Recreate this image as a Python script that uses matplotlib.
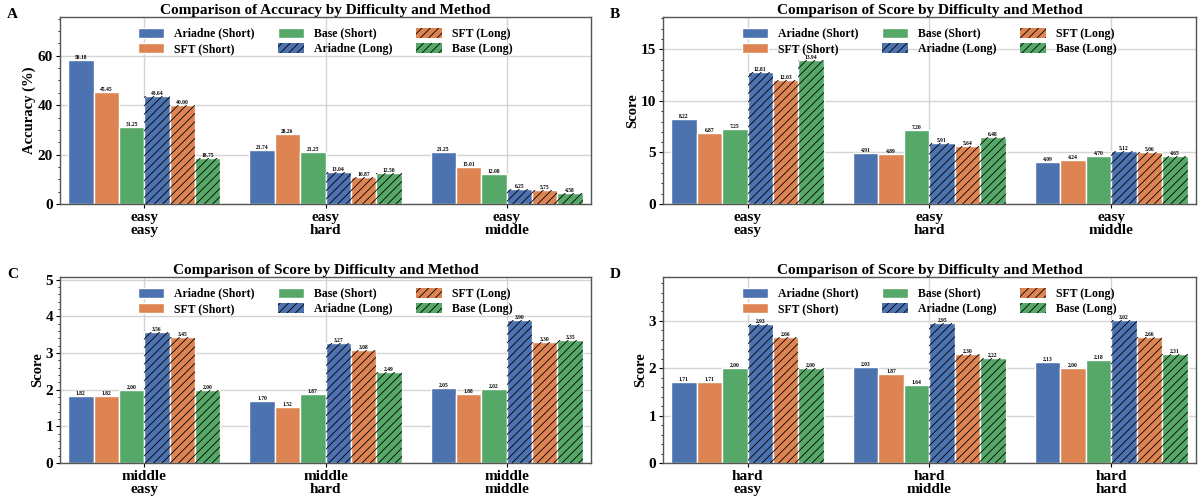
import matplotlib
matplotlib.use("Agg")
import matplotlib.pyplot as plt
from matplotlib.patches import Patch
from matplotlib.ticker import AutoMinorLocator, MultipleLocator
import numpy as np

plt.rcParams['font.family'] = ['Liberation Serif', 'DejaVu Serif']
plt.rcParams['font.weight'] = 'bold'
plt.rcParams['hatch.linewidth'] = 0.6

methods = ['Ariadne (Short)', 'SFT (Short)', 'Base (Short)',
           'Ariadne (Long)', 'SFT (Long)', 'Base (Long)']
colors = ['#4C72B0', '#DD8452', '#55A868', '#4C72B0', '#DD8452', '#55A868']
hatches = [None, None, None, '////', '////', '////']

groups_a = ['easy\neasy', 'easy\nhard', 'easy\nmiddle']
groups_b = ['easy\neasy', 'easy\nhard', 'easy\nmiddle']
groups_c = ['middle\neasy', 'middle\nhard', 'middle\nmiddle']
groups_d = ['hard\neasy', 'hard\nmiddle', 'hard\nhard']

# rows = groups, columns = methods
acc_a = [[58.18, 45.45, 31.25, 43.64, 40.00, 18.75],
         [21.74, 28.26, 21.25, 13.04, 10.87, 12.50],
         [21.25, 15.01, 12.08, 6.25, 5.75, 4.58]]
score_b = [[8.22, 6.87, 7.25, 12.81, 12.03, 13.94],
           [4.91, 4.89, 7.20, 5.91, 5.64, 6.48],
           [4.09, 4.24, 4.70, 5.12, 5.06, 4.65]]
score_c = [[1.82, 1.82, 2.00, 3.56, 3.45, 2.00],
           [1.70, 1.52, 1.87, 3.27, 3.08, 2.49],
           [2.05, 1.88, 2.02, 3.90, 3.30, 3.35]]
score_d = [[1.71, 1.71, 2.00, 2.93, 2.66, 2.00],
           [2.03, 1.87, 1.64, 2.95, 2.30, 2.22],
           [2.13, 2.00, 2.18, 3.02, 2.66, 2.31]]

panels = [
    ('A', 'Comparison of Accuracy by Difficulty and Method', 'Accuracy (%)', groups_a, acc_a, 20),
    ('B', 'Comparison of Score by Difficulty and Method', 'Score', groups_b, score_b, 5),
    ('C', 'Comparison of Score by Difficulty and Method', 'Score', groups_c, score_c, 1),
    ('D', 'Comparison of Score by Difficulty and Method', 'Score', groups_d, score_d, 1),
]

fig = plt.figure(figsize=(12, 4.97), dpi=100)
positions = [[0.050, 0.5895, 0.4425, 0.376], [0.5525, 0.5895, 0.444, 0.376],
             [0.050, 0.0684, 0.4425, 0.374], [0.5525, 0.0684, 0.444, 0.374]]

width = 0.14
for (letter, title, ylabel, groups, data, step), pos in zip(panels, positions):
    ax = fig.add_axes(pos)
    vals = np.array(data)
    x = np.arange(len(groups))
    for j in range(len(methods)):
        xs = x + (j - 2.5) * width
        ax.bar(xs, vals[:, j], width, color=colors[j], edgecolor='white',
               linewidth=1.0, zorder=2)
        if hatches[j]:
            ax.bar(xs, vals[:, j], width, fill=False, hatch=hatches[j],
                   edgecolor='black', linewidth=0, zorder=3)
        for xi, v in zip(xs, vals[:, j]):
            ax.text(xi, v, f'{v:.2f}', ha='center', va='bottom',
                    fontsize=4, fontweight='bold', zorder=4)
    ax.set_ylim(0, vals.max() * 1.3)
    ax.set_xlim(-0.465, 2.465)
    ax.set_xticks(x)
    ax.set_xticklabels(groups, fontsize=11, fontweight='bold',
                       linespacing=1.05)
    ax.yaxis.set_major_locator(MultipleLocator(step))
    ax.yaxis.set_minor_locator(AutoMinorLocator())
    ax.tick_params(axis='y', labelsize=11, length=3, pad=2)
    ax.tick_params(axis='y', which='minor', length=1.5)
    ax.tick_params(axis='x', length=3, pad=2)
    for lab in ax.get_yticklabels():
        lab.set_fontweight('bold')
    ax.set_ylabel(ylabel, fontsize=10.5, fontweight='bold', labelpad=1)
    ax.set_title(title, fontsize=11, fontweight='bold', pad=2)
    ax.grid(True, color='#d4d4d4', linewidth=1.0, zorder=0)
    ax.set_axisbelow(True)
    for s in ax.spines.values():
        s.set_color('#555555')
        s.set_linewidth(1.0)

    handles = [Patch(facecolor=c, edgecolor='white', hatch=h)
               for c, h in zip(colors, hatches)]
    leg = ax.legend(handles, methods, ncol=3, loc='upper center',
                    frameon=False, prop={'size': 8.5, 'weight': 'bold'},
                    columnspacing=2.0, handlelength=2.2, handleheight=0.9,
                    handletextpad=0.85, labelspacing=0.3,
                    bbox_to_anchor=(0.5, 1.0))
    for p in leg.get_patches():
        if p.get_hatch():
            p.set_edgecolor('black')
            p.set_linewidth(0)
    ax.text(-0.1, 1.05, letter, transform=ax.transAxes, fontsize=11,
            fontweight='bold', va='top')

fig.savefig('out.png', dpi=100)
